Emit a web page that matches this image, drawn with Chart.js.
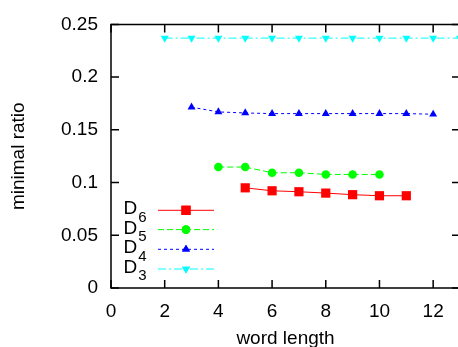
<!DOCTYPE html>
<html>
<head>
<meta charset="utf-8">
<script src="https://cdn.jsdelivr.net/npm/chart.js@4/dist/chart.umd.min.js"></script>
<style>
  html, body { margin: 0; padding: 0; background: #fff; overflow: hidden; }
  #wrap { width: 470px; height: 350px; }
</style>
</head>
<body>
<div id="wrap"><canvas id="c" width="470" height="350"></canvas></div>
<script>
// word length vs. minimal ratio for the D_n families
const xTicks = [0, 2, 4, 6, 8, 10, 12];
const yTicks = [0, 0.05, 0.1, 0.15, 0.2, 0.25];

const d6Len = [5, 6, 7, 8, 9, 10, 11];
const d6Val = [0.095, 0.0922, 0.0913, 0.0900, 0.0885, 0.0875, 0.0875];

const d5Len = [4, 5, 6, 7, 8, 9, 10];
const d5Val = [0.1147, 0.1147, 0.1093, 0.1093, 0.1077, 0.1077, 0.1077];

const d4Len = [3, 4, 5, 6, 7, 8, 9, 10, 11, 12];
const d4Val = [0.1715, 0.1670, 0.1660, 0.1654, 0.1654, 0.1654, 0.1654, 0.1654, 0.1654, 0.1648];

const d3Len = [2, 3, 4, 5, 6, 7, 8, 9, 10, 11, 12, 13];
const d3Val = [0.237, 0.237, 0.237, 0.237, 0.237, 0.237, 0.237, 0.237, 0.237, 0.237, 0.237, 0.237];

const pts = (xs, ys) => xs.map((x, i) => ({ x: x, y: ys[i] }));

const FONT = "'Liberation Sans', Arial, sans-serif";
const FS = 19;

const series = [
  { sub: '6', data: pts(d6Len, d6Val), color: '#ff0000', dash: [], style: 'rect', radius: 6.5, rotation: 0 },
  { sub: '5', data: pts(d5Len, d5Val), color: '#00ff00', dash: [6, 3], style: 'circle', radius: 4.3, rotation: 0 },
  { sub: '4', data: pts(d4Len, d4Val), color: '#0000ff', dash: [3, 3], style: 'triangle', radius: 4.6, rotation: 0 },
  { sub: '3', data: pts(d3Len, d3Val), color: '#00ffff', dash: [8, 3, 2, 3], style: 'triangle', radius: 4.6, rotation: 180 }
];

// gnuplot-like frame, inward ticks on all sides, and key in the lower left
const framePlugin = {
  id: 'frame',
  afterDraw(chart) {
    const ctx = chart.ctx;
    const a = chart.chartArea;
    const xs = chart.scales.x, ys = chart.scales.y;
    ctx.save();
    ctx.strokeStyle = '#000';
    ctx.lineWidth = 1.5;
    ctx.beginPath();
    ctx.rect(a.left, a.top, a.right - a.left, a.bottom - a.top);
    ctx.stroke();
    const tl = 8;
    ctx.beginPath();
    xTicks.forEach(v => {
      const px = xs.getPixelForValue(v);
      ctx.moveTo(px, a.bottom); ctx.lineTo(px, a.bottom - tl);
      ctx.moveTo(px, a.top); ctx.lineTo(px, a.top + tl);
    });
    yTicks.forEach(v => {
      const py = ys.getPixelForValue(v);
      ctx.moveTo(a.left, py); ctx.lineTo(a.left + tl, py);
      ctx.moveTo(a.right, py); ctx.lineTo(a.right - tl, py);
    });
    ctx.stroke();

    // key
    const rowY = [210.3, 229.6, 249.3, 269];
    series.forEach((s, i) => {
      const y = rowY[i];
      ctx.fillStyle = '#000';
      ctx.textBaseline = 'alphabetic';
      ctx.textAlign = 'left';
      ctx.font = FS + 'px ' + FONT;
      ctx.fillText('D', 123.5, y + 4);
      ctx.font = '15px ' + FONT;
      ctx.fillText(s.sub, 138.3, y + 11.4);
      ctx.strokeStyle = s.color;
      ctx.lineWidth = 1;
      ctx.setLineDash(s.dash);
      ctx.beginPath();
      ctx.moveTo(158, y); ctx.lineTo(214, y);
      ctx.stroke();
      ctx.setLineDash([]);
      ctx.fillStyle = s.color;
      Chart.helpers.drawPoint(ctx, { pointStyle: s.style, radius: s.radius, rotation: s.rotation, borderWidth: 0 }, 186, y);
      ctx.fill();
    });
    ctx.restore();
  }
};

new Chart(document.getElementById('c'), {
  type: 'scatter',
  data: {
    datasets: series.map(s => ({
      label: 'D' + s.sub,
      data: s.data,
      showLine: true,
      borderColor: s.color,
      backgroundColor: s.color,
      borderWidth: 1,
      borderDash: s.dash,
      pointStyle: s.style,
      pointRadius: s.radius,
      pointRotation: s.rotation,
      pointBorderWidth: 0,
      pointBackgroundColor: s.color,
      clip: false
    }))
  },
  options: {
    responsive: false,
    animation: false,
    layout: { padding: { top: 21, right: 10, left: 0, bottom: 0 } },
    plugins: { legend: { display: false }, tooltip: { enabled: false } },
    scales: {
      x: {
        type: 'linear', min: 0, max: 13,
        afterBuildTicks: sc => { sc.ticks = xTicks.map(v => ({ value: v })); },
        afterFit: sc => { sc.height = 62; },
        grid: { display: false, drawTicks: false },
        border: { display: false },
        ticks: { color: '#000', font: { family: FONT, size: FS }, padding: 12, maxRotation: 0, callback: v => String(v) },
        title: { display: true, text: 'word length', color: '#000', font: { family: FONT, size: FS }, padding: { top: 0, bottom: 0 } }
      },
      y: {
        type: 'linear', min: 0, max: 0.25,
        afterBuildTicks: sc => { sc.ticks = yTicks.map(v => ({ value: v })); },
        afterFit: sc => { sc.width = 111; },
        grid: { display: false, drawTicks: false },
        border: { display: false },
        ticks: { color: '#000', font: { family: FONT, size: FS }, padding: 13, callback: v => String(v) },
        title: { display: true, text: 'minimal ratio', color: '#000', font: { family: FONT, size: FS }, padding: { top: 7, bottom: 0 } }
      }
    }
  },
  plugins: [framePlugin]
});
</script>
</body>
</html>
